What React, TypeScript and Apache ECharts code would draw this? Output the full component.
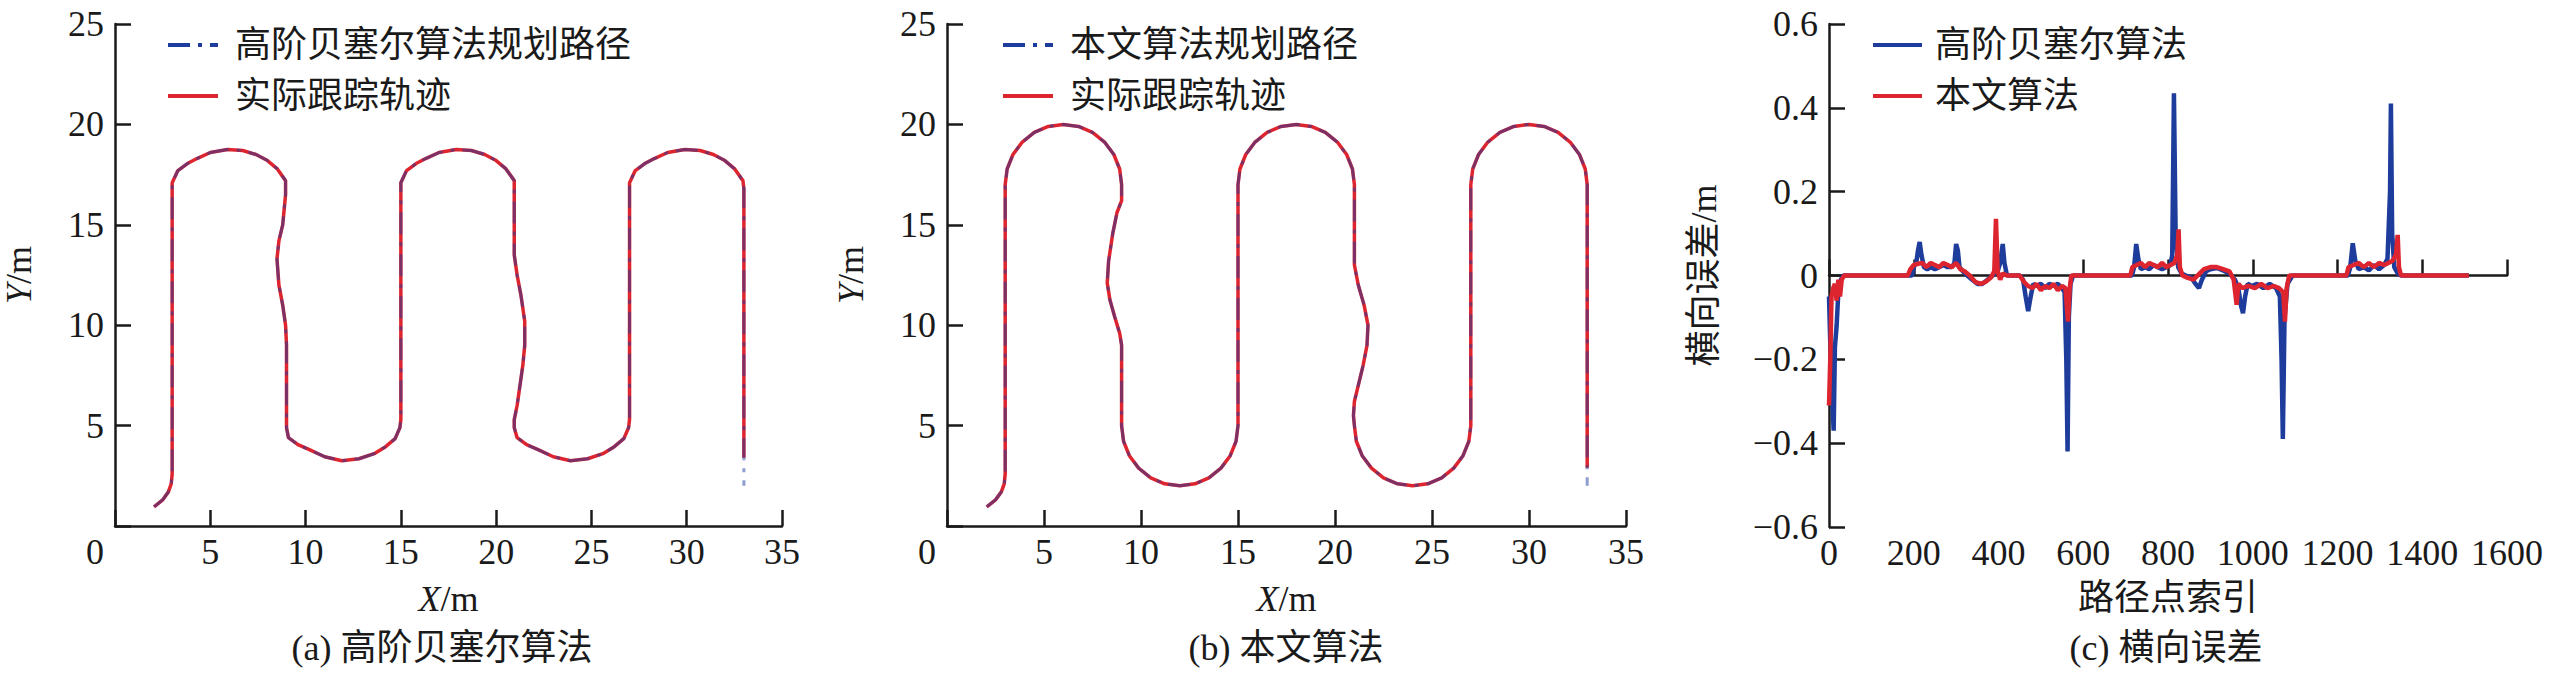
import React, { useEffect, useRef } from "react";
import * as echarts from "echarts";

// ---------- Panel (a): high-order Bezier planned path [x, y] (m) ----------
const pathA: number[][] = [
  [2.05, 0.95], [2.5, 1.3], [2.8, 1.7], [2.95, 2.1], [3.0, 2.6], [3.0, 17.1],
  [3.3, 17.7], [3.8, 18.05], [4.3, 18.3], [5.0, 18.6], [5.9, 18.75], [6.7, 18.7], [7.4, 18.5], [8.0, 18.2], [8.5, 17.8], [8.95, 17.2],
  [8.95, 16.5], [8.9, 16], [8.8, 15], [8.6, 14.2], [8.5, 13.3], [8.6, 12.0], [8.8, 11], [8.95, 10], [9.0, 9], [9.0, 4.9],
  [9.1, 4.4], [9.6, 4.05], [10.2, 3.8], [11.0, 3.45], [11.9, 3.25], [12.8, 3.35], [13.6, 3.6], [14.2, 3.95], [14.7, 4.35], [14.95, 4.9],
  [15.0, 5.3], [15.0, 17.1],
  [15.3, 17.7], [15.8, 18.05], [16.3, 18.3], [17.0, 18.6], [17.9, 18.75], [18.7, 18.7], [19.4, 18.5], [20.0, 18.2], [20.5, 17.8], [20.95, 17.2],
  [20.95, 15], [20.95, 13.5], [21.1, 12.5], [21.3, 11.5], [21.5, 10.2], [21.5, 9], [21.4, 8], [21.25, 7], [21.1, 6], [20.95, 5.3], [20.95, 4.9],
  [21.1, 4.4], [21.6, 4.05], [22.2, 3.8], [23.0, 3.45], [23.9, 3.25], [24.8, 3.35], [25.6, 3.6], [26.2, 3.95], [26.7, 4.35], [26.95, 4.9],
  [27.0, 5.3], [27.0, 17.1],
  [27.3, 17.7], [27.8, 18.05], [28.3, 18.3], [29.0, 18.6], [29.9, 18.75], [30.7, 18.7], [31.4, 18.5], [32.0, 18.2], [32.5, 17.8], [32.95, 17.2],
  [33.0, 16.8], [33.0, 2.0],
];
const trackAEnd: number[] = [33.0, 3.4];

// ---------- Panel (b): proposed algorithm planned path [x, y] (m) ----------
const pathB: number[][] = [
  [2.05, 0.95], [2.5, 1.3], [2.8, 1.7], [2.95, 2.1], [3.0, 2.6], [3.0, 17.0],
  [3.1, 17.78], [3.4, 18.5], [3.88, 19.12], [4.5, 19.6], [5.22, 19.9], [6, 20], [6.78, 19.9], [7.5, 19.6], [8.12, 19.12], [8.6, 18.5], [8.9, 17.78], [9, 17],
  [9, 16.2], [8.76, 15.6], [8.55, 14.6], [8.33, 13.2], [8.26, 12.1], [8.4, 11.25], [8.65, 10.4], [8.9, 9.6], [9, 9], [9, 5],
  [9.1, 4.22], [9.4, 3.5], [9.88, 2.88], [10.5, 2.4], [11.22, 2.1], [12, 2], [12.78, 2.1], [13.5, 2.4], [14.12, 2.88], [14.6, 3.5], [14.9, 4.22], [15, 5],
  [15, 17],
  [15.1, 17.78], [15.4, 18.5], [15.88, 19.12], [16.5, 19.6], [17.22, 19.9], [18, 20], [18.78, 19.9], [19.5, 19.6], [20.12, 19.12], [20.6, 18.5], [20.9, 17.78], [21, 17],
  [21, 13], [21.2, 12], [21.5, 11], [21.7, 10], [21.65, 9], [21.45, 8], [21.2, 7], [21, 6.2], [20.95, 5.5], [21, 5],
  [21.1, 4.22], [21.4, 3.5], [21.88, 2.88], [22.5, 2.4], [23.22, 2.1], [24, 2], [24.78, 2.1], [25.5, 2.4], [26.12, 2.88], [26.6, 3.5], [26.9, 4.22], [27, 5],
  [27, 17],
  [27.1, 17.78], [27.4, 18.5], [27.88, 19.12], [28.5, 19.6], [29.22, 19.9], [30, 20], [30.78, 19.9], [31.5, 19.6], [32.12, 19.12], [32.6, 18.5], [32.9, 17.78], [33, 17],
  [33, 2.0],
];
const trackBEnd: number[] = [33.0, 2.9];

// ---------- Panel (c): lateral error [path point index, error (m)] ----------
const errBezier: number[][] = [
  [0, -0.05], [4, -0.2], [8, -0.3], [11, -0.37], [14, -0.17], [18, -0.12], [22, -0.04], [28, -0.01], [34, 0],
  [190, 0], [196, 0.0], [200, 0.02], [206, 0.03], [210, 0.06], [214, 0.08], [218, 0.05], [224, 0.02], [232, 0.015], [240, 0.02], [250, 0.015],
  [260, 0.02], [270, 0.025], [280, 0.02], [290, 0.02], [296, 0.03], [300, 0.075], [304, 0.06], [308, 0.02], [316, 0.01], [326, 0],
  [338, -0.01], [350, -0.02], [362, -0.02], [374, -0.01], [386, 0], [398, 0.01], [404, 0.03], [410, 0.075], [414, 0.03], [420, 0],
  [450, 0], [458, -0.01], [464, -0.05], [470, -0.085], [476, -0.05], [482, -0.02], [490, -0.025], [500, -0.02], [510, -0.03], [520, -0.02],
  [530, -0.025], [540, -0.02], [550, -0.03], [556, -0.04], [560, -0.2], [563, -0.42], [566, -0.1], [570, -0.02], [576, 0],
  [715, 0], [720, 0.02], [725, 0.075], [730, 0.04], [736, 0.015], [746, 0.02], [756, 0.015], [766, 0.025], [776, 0.02], [786, 0.015],
  [796, 0.02], [806, 0.025], [810, 0.05], [814, 0.435], [818, 0.1], [824, 0.02], [832, 0.005], [842, 0],
  [855, -0.005], [865, -0.02], [873, -0.03], [880, -0.01], [890, 0.01], [900, 0.015], [915, 0.018], [930, 0.012], [945, 0.005],
  [958, -0.01], [966, -0.03], [972, -0.07], [977, -0.09], [982, -0.05], [988, -0.02], [998, -0.025], [1010, -0.02], [1025, -0.03],
  [1040, -0.02], [1055, -0.03], [1064, -0.05], [1068, -0.2], [1071, -0.39], [1075, -0.1], [1082, -0.02], [1094, 0],
  [1225, 0], [1230, 0.02], [1236, 0.077], [1242, 0.035], [1250, 0.015], [1262, 0.02], [1274, 0.012], [1286, 0.025], [1298, 0.015],
  [1310, 0.025], [1318, 0.04], [1324, 0.2], [1326, 0.41], [1329, 0.1], [1334, 0.02], [1342, 0.005], [1350, 0], [1510, 0],
];
const errOurs: number[][] = [
  [0, -0.31], [3, -0.2], [6, -0.05], [10, -0.03], [14, -0.02], [18, -0.06], [22, -0.01], [26, -0.05], [30, -0.01], [36, 0],
  [186, 0], [192, 0.015], [200, 0.025], [210, 0.028], [220, 0.03], [230, 0.02], [240, 0.03], [250, 0.025], [260, 0.02], [270, 0.03],
  [280, 0.025], [290, 0.02], [300, 0.03], [310, 0.015], [320, 0.01], [332, 0], [345, -0.015], [358, -0.02], [370, -0.015], [382, -0.005],
  [390, 0.01], [394, 0.135], [398, 0.01], [404, -0.01], [410, 0.005], [420, 0],
  [450, 0], [460, -0.015], [470, -0.025], [480, -0.03], [490, -0.02], [500, -0.035], [510, -0.025], [520, -0.03], [530, -0.02],
  [540, -0.035], [550, -0.025], [558, -0.03], [564, -0.11], [568, -0.03], [572, 0],
  [711, 0], [716, 0.02], [726, 0.025], [736, 0.03], [746, 0.02], [756, 0.03], [766, 0.025], [776, 0.02], [786, 0.03], [796, 0.02],
  [806, 0.025], [815, 0.03], [822, 0.05], [825, 0.11], [828, 0.02], [834, 0],
  [845, -0.005], [860, -0.01], [875, 0.005], [885, 0.015], [900, 0.02], [915, 0.02], [930, 0.015], [945, 0.01], [955, -0.01],
  [962, -0.07], [966, -0.02], [975, -0.03], [990, -0.025], [1005, -0.03], [1020, -0.02], [1035, -0.03], [1050, -0.025], [1062, -0.03],
  [1072, -0.04], [1076, -0.11], [1080, -0.03], [1086, 0],
  [1221, 0], [1226, 0.02], [1238, 0.025], [1250, 0.03], [1262, 0.02], [1274, 0.03], [1286, 0.02], [1298, 0.03], [1310, 0.025],
  [1320, 0.03], [1330, 0.035], [1338, 0.05], [1342, 0.097], [1345, 0.02], [1350, 0], [1510, 0],
];

// ---------- texts ----------
const legendA = ["高阶贝塞尔算法规划路径", "实际跟踪轨迹"];
const legendB = ["本文算法规划路径", "实际跟踪轨迹"];
const legendC = ["高阶贝塞尔算法", "本文算法"];
const captions = ["(a) 高阶贝塞尔算法", "(b) 本文算法", "(c) 横向误差"];
const yNameC = "横向误差/m";
const xNameC = "路径点索引";

const FONT = '"Liberation Serif", "Noto Sans CJK SC", serif';
const INK = "#1a1a1a";
const BLUE = "#1d3c9c";
const RED = "#dd2530";
const FS = 36;

const ICON_SOLID = "path://M0 0H50V4H0Z";
const ICON_DASHDOT = "path://M0 0H22V4H0Z M30 0H34V4H30Z M42 0H50V4H42Z";

function axisBase() {
  return {
    axisLine: { show: true, lineStyle: { color: INK, width: 2.5 } },
    axisTick: { show: true, inside: true, length: 16, lineStyle: { color: INK, width: 2.5 } },
    splitLine: { show: false },
  };
}

function App() {
  const ref = useRef<HTMLDivElement>(null);
  useEffect(() => {
    document.body.style.margin = "0";
    if (!ref.current) return;
    const chart = echarts.init(ref.current, undefined, { renderer: "svg" });

    const trackA = pathA.slice(0, -1).concat([trackAEnd]);
    const trackB = pathB.slice(0, -1).concat([trackBEnd]);

    const labelText = { fontFamily: FONT, fontSize: FS, color: INK };
    const xPathAxis = (gi: number) => ({
      type: "value",
      gridIndex: gi,
      min: 0,
      max: 35,
      interval: 5,
      ...axisBase(),
      axisLabel: {
        ...labelText,
        margin: 8,
        formatter: (v: number) => (v === 0 ? "{z|0}" : String(v)),
        rich: { z: { ...labelText, width: 58, align: "left" } },
      },
      name: "{i|X}/m",
      nameLocation: "middle",
      nameGap: 55,
      nameTextStyle: { ...labelText, rich: { i: { ...labelText, fontStyle: "italic" } } },
    });
    const yPathAxis = (gi: number) => ({
      type: "value",
      gridIndex: gi,
      min: 0,
      max: 25,
      interval: 5,
      ...axisBase(),
      axisLabel: { ...labelText, margin: 11, formatter: (v: number) => (v === 0 ? "" : String(v)) },
      name: "{i|Y}/m",
      nameLocation: "middle",
      nameGap: 78,
      nameTextStyle: { ...labelText, rich: { i: { ...labelText, fontStyle: "italic" } } },
    });

    const legendCommon = {
      orient: "vertical",
      top: 22,
      itemWidth: 50,
      itemHeight: 4,
      itemGap: 15,
      selectedMode: false,
      textStyle: { ...labelText, lineHeight: 36, padding: [0, 0, 0, 12] },
    };

    const dashDot = [22, 8, 4, 8];

    chart.setOption({
      animation: false,
      backgroundColor: "#ffffff",
      grid: [
        { left: 103, top: 24, width: 679, height: 502 },
        { left: 947, top: 24, width: 679, height: 502 },
        { left: 1829, top: 24, width: 678, height: 503 },
      ],
      xAxis: [
        xPathAxis(0),
        xPathAxis(1),
        {
          type: "value",
          gridIndex: 2,
          min: 0,
          max: 1600,
          interval: 200,
          ...axisBase(),
          axisLabel: { ...labelText, margin: 8, formatter: (v: number) => String(v) },
          name: xNameC,
          nameLocation: "middle",
          nameGap: 53,
          nameTextStyle: labelText,
        },
      ],
      yAxis: [
        yPathAxis(0),
        yPathAxis(1),
        {
          type: "value",
          gridIndex: 2,
          min: -0.6,
          max: 0.6,
          interval: 0.2,
          ...axisBase(),
          axisLabel: {
            ...labelText,
            margin: 11,
            formatter: (v: number) => {
              const r = Math.round(v * 10) / 10;
              if (r === 0) return "0";
              return (r < 0 ? "\u2212" : "") + Math.abs(r).toFixed(1);
            },
          },
          name: yNameC,
          nameLocation: "middle",
          nameGap: 107,
          nameTextStyle: labelText,
        },
      ],
      legend: [
        {
          ...legendCommon,
          left: 163,
          data: [
            { name: legendA[0], icon: ICON_DASHDOT, itemStyle: { color: BLUE, opacity: 1 } },
            { name: legendA[1], icon: ICON_SOLID, itemStyle: { color: RED } },
          ],
        },
        {
          ...legendCommon,
          left: 998,
          data: [
            { name: legendB[0], icon: ICON_DASHDOT, itemStyle: { color: BLUE, opacity: 1 } },
            { name: legendB[1], icon: ICON_SOLID, itemStyle: { color: RED } },
          ],
        },
        {
          ...legendCommon,
          left: 1868,
          itemWidth: 49,
          textStyle: { ...labelText, lineHeight: 36, padding: [0, 0, 0, 8] },
          data: [
            { name: legendC[0], icon: ICON_SOLID, itemStyle: { color: BLUE } },
            { name: legendC[1], icon: ICON_SOLID, itemStyle: { color: RED } },
          ],
        },
      ],
      series: [
        {
          type: "line", name: legendA[1], xAxisIndex: 0, yAxisIndex: 0, data: trackA,
          symbol: "none", lineStyle: { color: RED, width: 3.5 }, itemStyle: { color: RED },
        },
        {
          type: "line", name: legendA[0], xAxisIndex: 0, yAxisIndex: 0, data: pathA,
          symbol: "none", lineStyle: { color: BLUE, width: 3, type: dashDot, opacity: 0.5 }, itemStyle: { color: BLUE },
        },
        {
          type: "line", name: legendB[1], xAxisIndex: 1, yAxisIndex: 1, data: trackB,
          symbol: "none", lineStyle: { color: RED, width: 3.5 }, itemStyle: { color: RED },
        },
        {
          type: "line", name: legendB[0], xAxisIndex: 1, yAxisIndex: 1, data: pathB,
          symbol: "none", lineStyle: { color: BLUE, width: 3, type: dashDot, opacity: 0.5 }, itemStyle: { color: BLUE },
        },
        {
          type: "line", name: legendC[0], xAxisIndex: 2, yAxisIndex: 2, data: errBezier,
          symbol: "none", lineStyle: { color: BLUE, width: 4.5 }, itemStyle: { color: BLUE },
        },
        {
          type: "line", name: legendC[1], xAxisIndex: 2, yAxisIndex: 2, data: errOurs,
          symbol: "none", lineStyle: { color: RED, width: 4.5 }, itemStyle: { color: RED },
        },
      ],
      graphic: [
        { type: "text", x: 442, y: 648, style: { text: captions[0], align: "center", verticalAlign: "middle", fontFamily: FONT, fontSize: FS, fill: INK } },
        { type: "text", x: 1286, y: 648, style: { text: captions[1], align: "center", verticalAlign: "middle", fontFamily: FONT, fontSize: FS, fill: INK } },
        { type: "text", x: 2166, y: 648, style: { text: captions[2], align: "center", verticalAlign: "middle", fontFamily: FONT, fontSize: FS, fill: INK } },
      ],
    });
    return () => chart.dispose();
  }, []);
  return <div ref={ref} style={{ width: 2551, height: 677 }} />;
}

export default App;
